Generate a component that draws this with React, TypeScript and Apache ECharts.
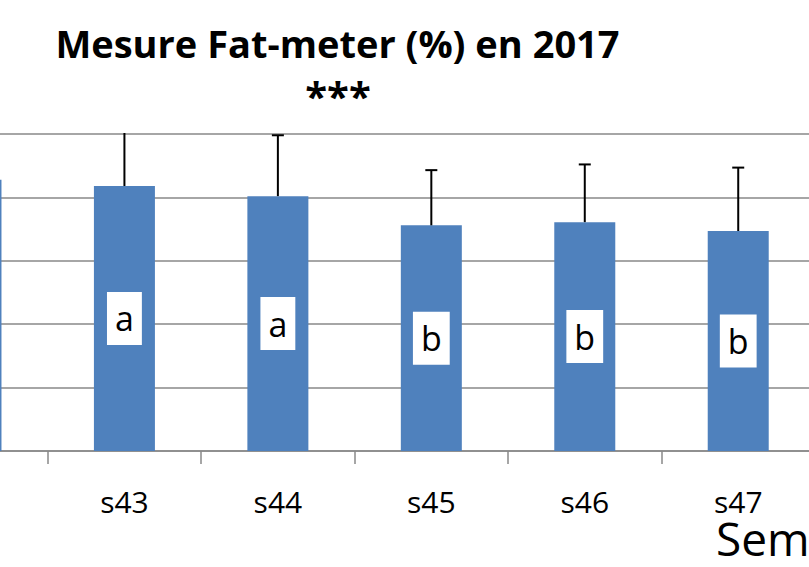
import React, { useEffect, useRef } from "react";
import * as echarts from "echarts";

const weeks = ["s42", "s43", "s44", "s45", "s46", "s47"];
const fatMeans = [21.4, 20.9, 20.1, 17.8, 18.05, 17.35];
const fatErrors = [4.5, 5.2, 4.8, 4.35, 4.55, 5.0];
const groupLetters = ["", "a", "a", "b", "b", "b"];
const titleText = "Mesure Fat-meter (%) en 2017";
const signifText = "***";
const xAxisName = "Semaine";

const OFF = 120;
const W = 949;
const H = 567;
const FONT = "'Open Sans', 'Noto Sans', sans-serif";

export default function App() {
  const ref = useRef<HTMLDivElement>(null);
  useEffect(() => {
    if (!ref.current) return;
    const chart = echarts.init(ref.current, null, { renderer: "svg" });
    const barData = fatMeans.map((v, i) => ({
      value: v,
      label: { show: groupLetters[i] !== "" },
    }));
    const errData = fatMeans.map((v, i) => [i, v, v + fatErrors[i]]);
    chart.setOption({
      animation: false,
      backgroundColor: "#ffffff",
      grid: { left: 14.25, right: 14.05, top: 134, bottom: 116, containLabel: false },
      xAxis: {
        type: "category",
        data: weeks,
        axisLine: { lineStyle: { color: "#898989", width: 1.5 } },
        axisTick: { show: true, length: 13, lineStyle: { color: "#898989", width: 1.5 } },
        axisLabel: {
          fontSize: 30,
          lineHeight: 30,
          color: "#000",
          fontFamily: FONT,
          margin: 35,
          formatter: (v: string, i: number) => (i === 0 ? "" : v),
        },
      },
      yAxis: {
        type: "value",
        min: 0,
        max: 25,
        interval: 5,
        axisLabel: { show: false },
        axisLine: { show: false },
        axisTick: { show: false },
        splitLine: { lineStyle: { color: "#898989", width: 1.5 } },
      },
      series: [
        {
          type: "bar",
          data: barData,
          barWidth: 61,
          itemStyle: { color: "#4F81BD" },
          label: {
            show: true,
            position: "inside",
            formatter: (p: any) => groupLetters[p.dataIndex],
            backgroundColor: "#ffffff",
            color: "#000",
            fontSize: 34,
            fontFamily: FONT,
            lineHeight: 46,
            padding: [4, 8, 3, 8],
          },
        },
        {
          type: "custom",
          data: errData,
          z: 5,
          renderItem: (params: any, api: any) => {
            const idx = api.value(0);
            const base = api.coord([idx, api.value(1)]);
            const top = api.coord([idx, api.value(2)]);
            const cs = params.coordSys;
            const clipped = top[1] < cs.y;
            const ty = clipped ? cs.y - 1 : top[1];
            const children: any[] = [
              {
                type: "line",
                shape: { x1: base[0], y1: base[1], x2: base[0], y2: ty },
                style: { stroke: "#000", lineWidth: 2 },
              },
            ];
            if (!clipped) {
              children.push({
                type: "line",
                shape: { x1: base[0] - 6, y1: ty, x2: base[0] + 6, y2: ty },
                style: { stroke: "#000", lineWidth: 2 },
              });
            }
            return { type: "group", children };
          },
        },
      ],
      graphic: [
        {
          type: "text",
          x: 337.5 + OFF,
          y: 42.5,
          style: {
            text: titleText,
            fontSize: 38,
            fontWeight: "bold",
            fontFamily: FONT,
            fill: "#000",
            textAlign: "center",
            textVerticalAlign: "middle",
          },
        },
        {
          type: "text",
          x: 338 + OFF,
          y: 95,
          style: {
            text: signifText,
            fontSize: 40,
            fontWeight: "bold",
            fontFamily: FONT,
            fill: "#000",
            textAlign: "center",
            textVerticalAlign: "middle",
          },
        },
        {
          type: "text",
          x: 716 + OFF,
          y: 538,
          style: {
            text: xAxisName,
            fontSize: 46,
            lineHeight: 38,
            fontFamily: FONT,
            fill: "#000",
            textAlign: "left",
            textVerticalAlign: "middle",
          },
        },
      ],
    });
    return () => chart.dispose();
  }, []);
  return (
    <div
      style={{
        position: "fixed",
        left: 0,
        top: 0,
        width: 809,
        height: H,
        overflow: "hidden",
        background: "#fff",
      }}
    >
      <div
        ref={ref}
        style={{ position: "absolute", left: -OFF, top: 0, width: W, height: H }}
      />
    </div>
  );
}
